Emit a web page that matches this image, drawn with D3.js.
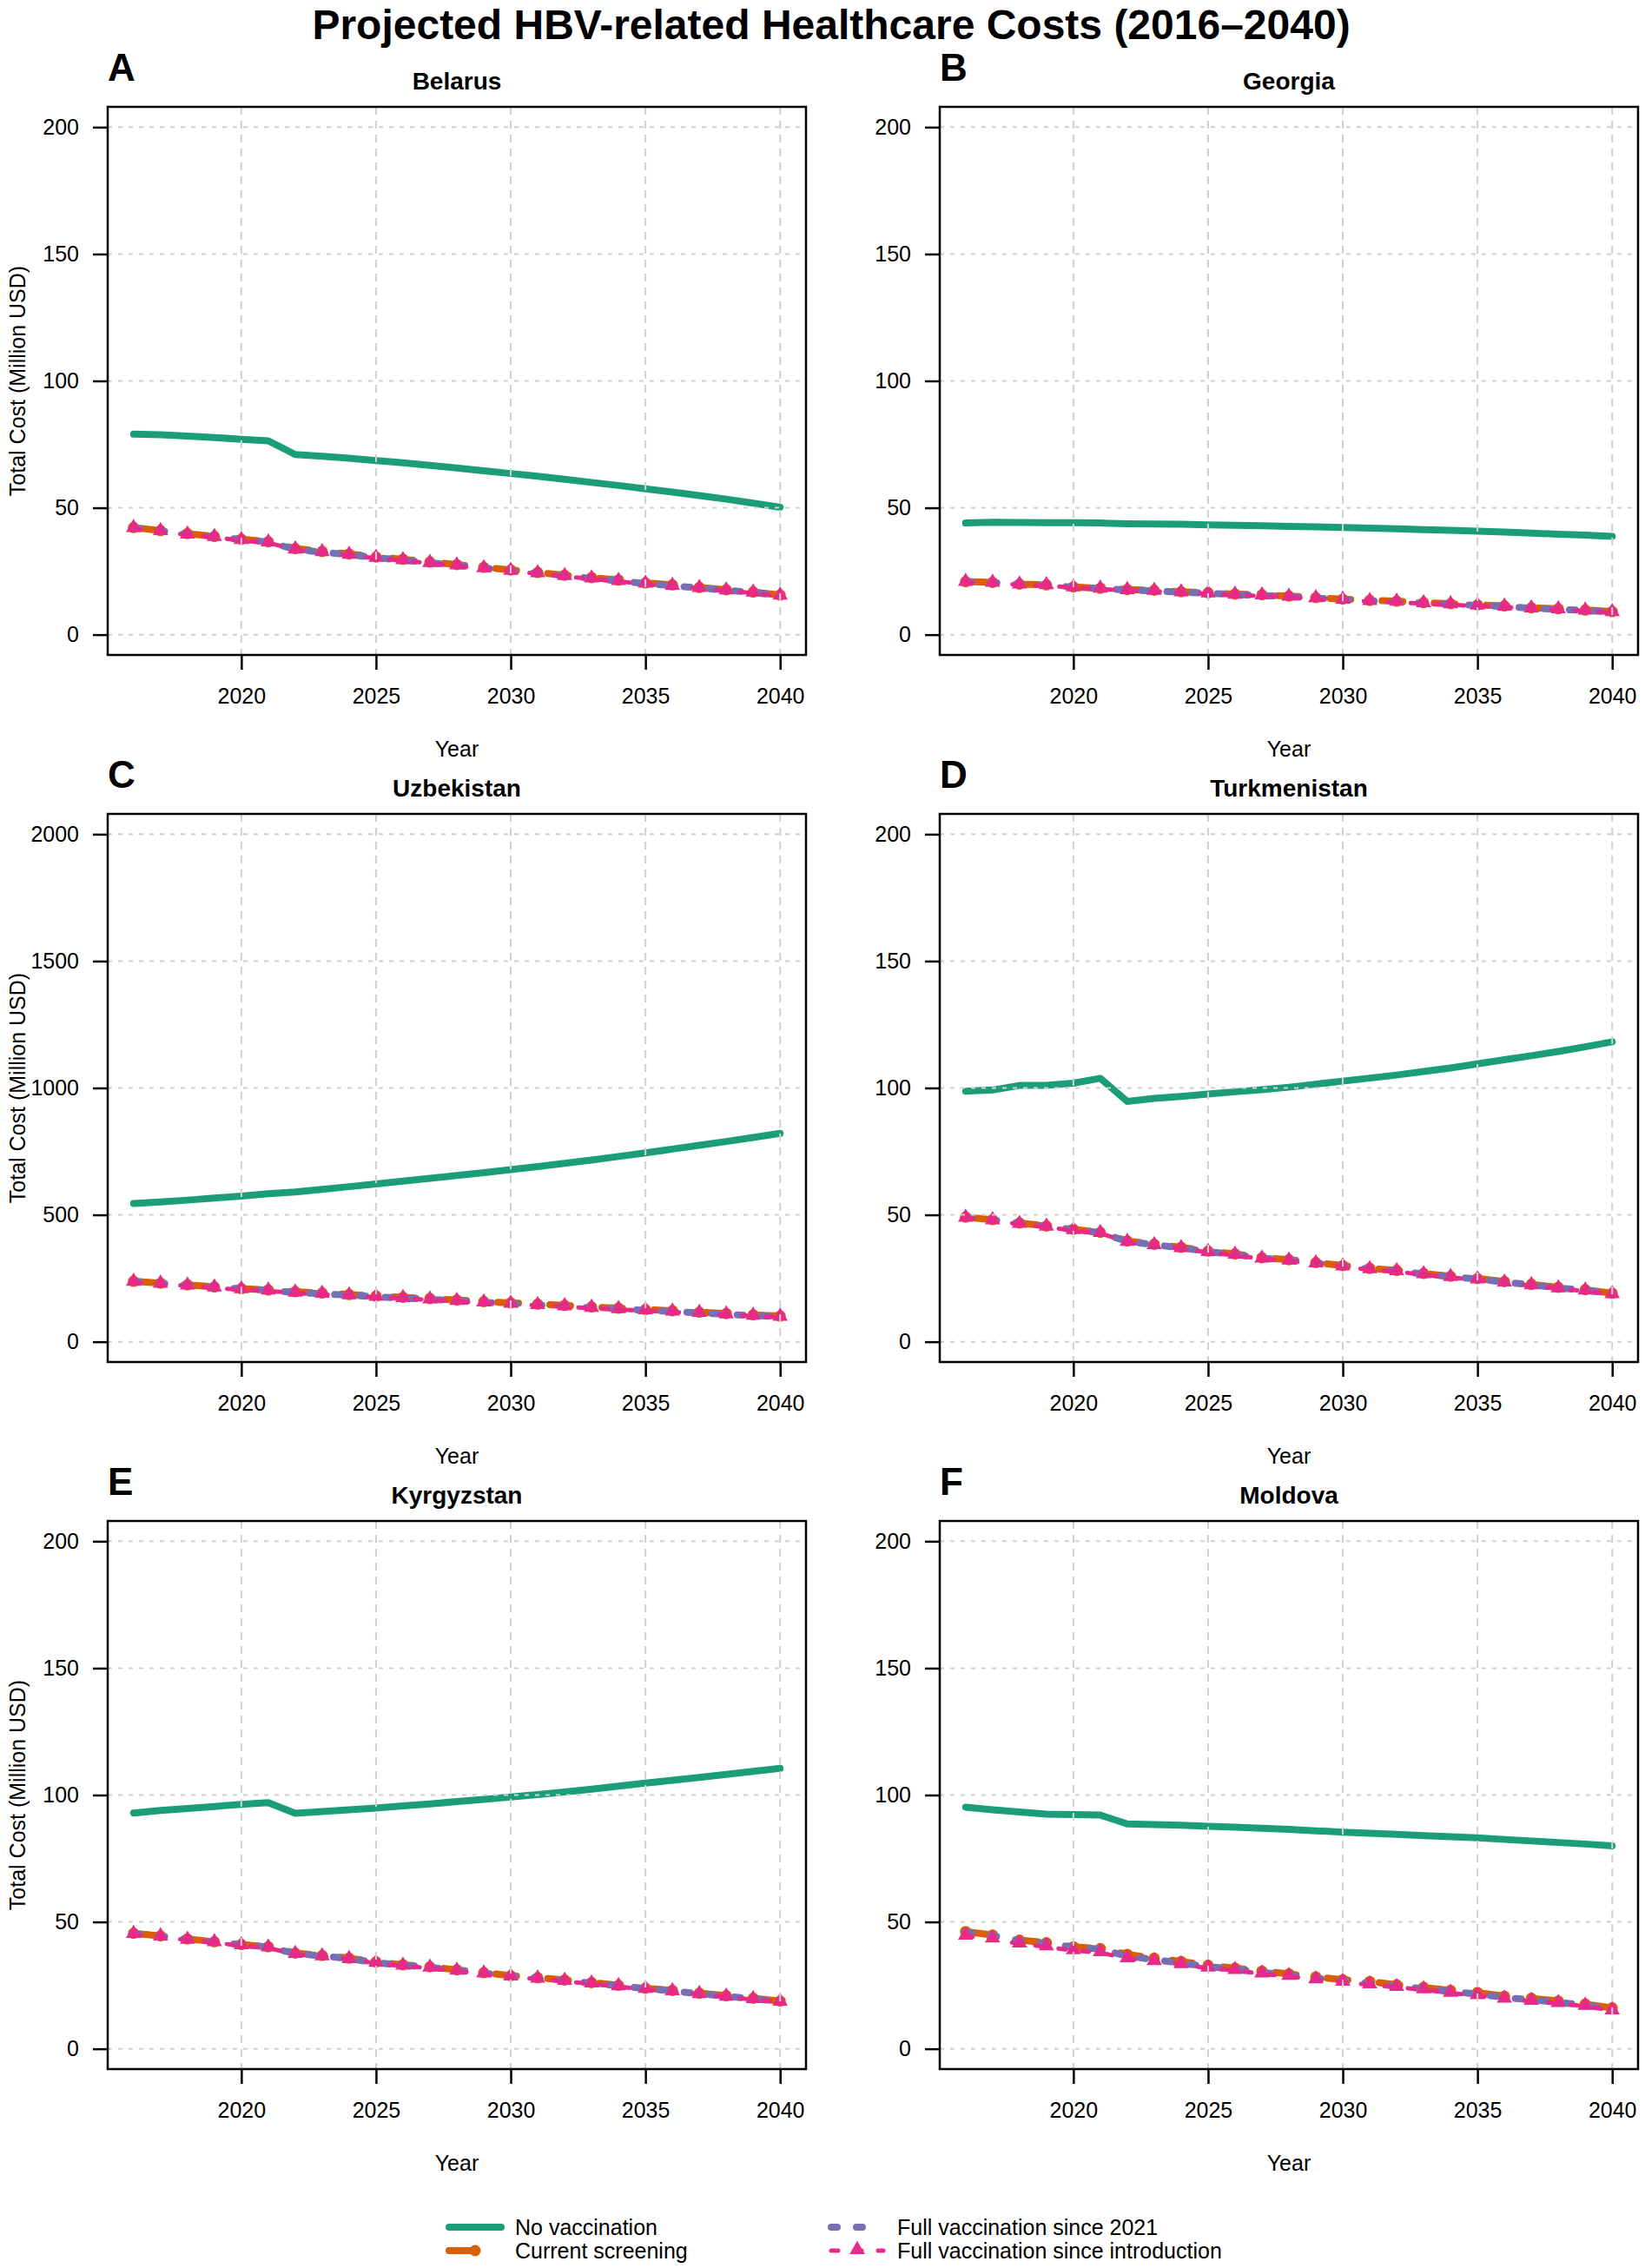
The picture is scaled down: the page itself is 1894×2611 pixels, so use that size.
<!DOCTYPE html>
<html>
<head>
<meta charset="utf-8">
<script src="https://cdn.jsdelivr.net/npm/d3@7"></script>
<style>
  html, body { margin: 0; padding: 0; background: #fff; }
  svg text { font-family: "Liberation Sans", Arial, Helvetica, sans-serif; }
</style>
</head>
<body>
<svg id="chart" width="1894" height="2611"></svg>
<script>
// ---------------- DATA ----------------
const years = [2016,2017,2018,2019,2020,2021,2022,2023,2024,2025,2026,2027,2028,2029,2030,2031,2032,2033,2034,2035,2036,2037,2038,2039,2040];
const countries = ["Belarus","Georgia","Uzbekistan","Turkmenistan","Kyrgyzstan","Moldova"];
const panelLetters = ["A","B","C","D","E","F"];
const seriesNames = ["No vaccination","Current screening","Full vaccination since 2021","Full vaccination since introduction"];
const xTickValues = [2020,2025,2030,2035,2040];
const yTicksSmall = [0,50,100,150,200];
const yTicksLarge = [0,500,1000,1500,2000];

// Belarus
const belarusNoVac   = [79.0,78.8,78.3,77.7,77.0,76.4,71.0,70.3,69.5,68.6,67.7,66.7,65.7,64.6,63.5,62.4,61.2,60.0,58.8,57.5,56.2,54.8,53.4,51.8,50.2];
const belarusCurrent = [42.2,41.0,39.8,38.7,37.6,36.6,33.9,32.8,31.8,30.6,29.7,28.6,27.6,26.5,25.5,24.5,23.4,22.5,21.5,20.4,19.6,18.6,17.7,16.8,15.6];
const belarus2021    = [42.1,40.9,39.7,38.6,37.5,36.5,33.6,32.5,31.5,30.3,29.4,28.3,27.3,26.2,25.2,24.2,23.1,22.2,21.2,20.1,19.3,18.4,17.5,16.6,15.4];
const belarusIntro   = [41.8,40.6,39.3,38.3,37.1,36.2,33.4,32.3,31.3,30.1,29.2,28.1,27.1,26.0,25.0,24.0,22.9,22.0,21.0,19.9,19.1,18.2,17.3,16.4,15.2];
// Georgia
const georgiaNoVac   = [44.0,44.3,44.2,44.1,44.1,44.0,43.7,43.6,43.5,43.3,43.1,42.9,42.7,42.5,42.2,42.0,41.7,41.4,41.1,40.8,40.4,40.0,39.6,39.2,38.7];
const georgiaCurrent = [20.9,20.6,19.9,19.6,18.8,18.3,17.8,17.5,16.9,16.5,16.0,15.7,15.2,14.6,14.0,13.5,13.2,12.6,12.2,11.7,11.3,10.6,10.2,9.7,9.1];
const georgia2021    = [20.8,20.5,19.8,19.5,18.7,18.2,17.6,17.3,16.7,16.3,15.8,15.5,15.0,14.4,13.8,13.3,13.0,12.4,12.0,11.5,11.1,10.4,10.0,9.5,8.9];
const georgiaIntro   = [20.6,20.3,19.6,19.3,18.5,18.0,17.4,17.1,16.5,16.1,15.6,15.3,14.8,14.2,13.6,13.1,12.8,12.2,11.8,11.3,10.9,10.2,9.8,9.3,8.7];
// Uzbekistan
const uzbekNoVac     = [545,551,558,566,574,583,590,600,611,622,633,644,655,666,678,690,703,716,730,744,759,774,789,805,821];
const uzbekCurrent   = [238,231,224,216,209,204,197,192,186,180,175,170,164,158,153,148,143,137,132,127,122,116,111,106,101];
const uzbek2021      = [237,230,223,215,208,203,194,189,183,177,172,167,161,155,150,145,140,134,129,124,119,114,108,103,99];
const uzbekIntro     = [234,227,220,212,205,200,192,187,181,175,170,165,159,153,148,143,138,132,127,122,117,112,106,101,97];
// Turkmenistan
const turkmenNoVac   = [98.7,99.2,101.0,101.0,101.9,103.8,94.7,95.9,96.7,97.6,98.5,99.3,100.3,101.5,102.7,103.9,105.1,106.5,107.9,109.5,111.1,112.7,114.4,116.2,118.2];
const turkmenCurrent = [49.1,48.1,46.8,45.6,44.3,43.1,39.7,38.4,37.2,35.7,34.6,33.1,32.3,31.2,30.0,28.9,28.1,26.9,25.8,24.9,23.7,22.6,21.4,20.5,19.1];
const turkmen2021    = [49.0,48.0,46.7,45.5,44.2,43.0,39.5,38.2,37.0,35.5,34.4,32.9,32.1,31.0,29.8,28.7,27.9,26.7,25.6,24.7,23.5,22.4,21.2,20.3,18.9];
const turkmenIntro   = [48.7,47.7,46.3,45.2,43.8,42.7,39.2,37.9,36.7,35.2,34.1,32.6,31.8,30.7,29.5,28.4,27.6,26.4,25.3,24.4,23.2,22.1,20.9,20.0,18.6];
// Kyrgyzstan
const kyrgyzNoVac    = [92.9,93.9,94.7,95.5,96.3,97.0,92.8,93.5,94.2,94.9,95.7,96.5,97.4,98.3,99.2,100.2,101.2,102.3,103.5,104.7,105.8,106.9,108.1,109.3,110.5];
const kyrgyzCurrent  = [45.5,44.5,43.3,42.2,41.1,40.2,37.7,36.8,35.7,34.2,33.1,32.3,31.1,30.0,28.8,28.0,27.1,26.1,25.0,23.9,23.0,21.9,20.9,19.9,18.8];
const kyrgyz2021     = [45.4,44.4,43.2,42.1,41.0,40.1,37.5,36.6,35.5,34.0,32.9,32.1,30.9,29.8,28.6,27.8,26.9,25.9,24.8,23.7,22.8,21.7,20.7,19.7,18.6];
const kyrgyzIntro    = [45.1,44.1,42.8,41.8,40.6,39.8,37.2,36.3,35.2,33.7,32.6,31.8,30.6,29.5,28.3,27.5,26.6,25.6,24.5,23.4,22.5,21.4,20.4,19.4,18.4];
// Moldova
const moldovaNoVac   = [95.2,94.2,93.3,92.5,92.3,92.1,88.6,88.4,88.1,87.7,87.3,86.9,86.5,85.9,85.4,84.9,84.5,84.0,83.6,83.1,82.5,81.9,81.3,80.7,80.0];
const moldovaCurrent = [46.2,44.8,42.8,41.8,40.2,39.5,37.2,35.7,34.4,32.9,31.8,30.6,29.5,28.3,27.2,26.5,25.2,24.2,23.0,22.2,20.7,19.9,18.8,17.6,16.1];
const moldova2021    = [46.0,44.6,42.6,41.6,40.0,39.3,36.5,35.1,33.8,32.4,31.3,30.1,29.0,27.8,26.7,25.8,24.7,23.7,22.5,21.6,20.2,19.3,18.3,17.2,15.6];
const moldovaIntro   = [44.4,43.3,41.3,40.2,38.7,37.9,35.5,34.4,33.2,31.8,30.9,29.5,28.6,27.2,26.3,25.2,24.2,23.3,21.9,21.0,19.6,18.7,17.9,16.8,15.0];

const panelSeries = [
  [belarusNoVac, belarusCurrent, belarus2021, belarusIntro],
  [georgiaNoVac, georgiaCurrent, georgia2021, georgiaIntro],
  [uzbekNoVac, uzbekCurrent, uzbek2021, uzbekIntro],
  [turkmenNoVac, turkmenCurrent, turkmen2021, turkmenIntro],
  [kyrgyzNoVac, kyrgyzCurrent, kyrgyz2021, kyrgyzIntro],
  [moldovaNoVac, moldovaCurrent, moldova2021, moldovaIntro]
];
const panelYTicks = [yTicksSmall, yTicksSmall, yTicksLarge, yTicksSmall, yTicksSmall, yTicksSmall];

// ---------------- STYLE / LAYOUT ----------------
const colors = ["#1B9E77","#D95F02","#7570B3","#E7298A"];
const lineStyles = [
  {w:8, dash:null},
  {w:8, dash:"24 36"},
  {w:8, dash:"7 22"},
  {w:5, dash:"8 19"}
];
const colLeft = [124, 1082];
const rowTop = [123, 937, 1751];
const boxW = 804, boxH = 631;
const tickLen = 17;
const gridColor = "#d0d0d0";

const svg = d3.select("#chart");
svg.append("rect").attr("width",1894).attr("height",2611).attr("fill","#fff");

svg.append("text")
  .attr("x", 957).attr("y", 45)
  .attr("text-anchor","middle")
  .attr("font-size", 48).attr("font-weight","bold")
  .text("Projected HBV-related Healthcare Costs (2016\u20132040)");

const tri = d3.symbol().type(d3.symbolTriangle).size(135);

countries.forEach((country, i) => {
  const col = i % 2, row = Math.floor(i / 2);
  const left = colLeft[col], top = rowTop[row];
  const ticks = panelYTicks[i];
  const yMax = ticks[ticks.length - 1];
  const x = d3.scaleLinear().domain([2016 - 0.96, 2040 + 0.96]).range([left, left + boxW]);
  const y = d3.scaleLinear().domain([-0.04 * yMax, 1.04 * yMax]).range([top + boxH, top]);
  const g = svg.append("g");

  // data lines
  const series = panelSeries[i];
  series.forEach((vals, s) => {
    const line = d3.line().x((d, k) => x(years[k])).y(d => y(d));
    g.append("path")
      .attr("d", line(vals))
      .attr("fill","none")
      .attr("stroke", colors[s])
      .attr("stroke-width", lineStyles[s].w)
      .attr("stroke-linecap","round")
      .attr("stroke-linejoin","round")
      .attr("stroke-dasharray", lineStyles[s].dash);
    if (s === 1) {
      g.selectAll(null).data(vals).enter().append("circle")
        .attr("cx", (d, k) => x(years[k])).attr("cy", d => y(d))
        .attr("r", 6.5).attr("fill", colors[1]);
    }
    if (s === 3) {
      g.selectAll(null).data(vals).enter().append("path")
        .attr("d", tri)
        .attr("transform", (d, k) => `translate(${x(years[k])},${y(d) - 1})`)
        .attr("fill", colors[3]);
    }
  });

  // grid on top
  g.selectAll(null).data(xTickValues).enter().append("line")
    .attr("x1", d => x(d)).attr("x2", d => x(d))
    .attr("y1", top).attr("y2", top + boxH)
    .attr("stroke", gridColor).attr("stroke-width", 2).attr("stroke-dasharray","9 7");
  g.selectAll(null).data(ticks).enter().append("line")
    .attr("x1", left).attr("x2", left + boxW)
    .attr("y1", d => y(d)).attr("y2", d => y(d))
    .attr("stroke", gridColor).attr("stroke-width", 2).attr("stroke-dasharray","5 7");

  // box
  g.append("rect").attr("x", left).attr("y", top).attr("width", boxW).attr("height", boxH)
    .attr("fill","none").attr("stroke","#000").attr("stroke-width", 2.5);

  // axes
  const ax = g.append("g").attr("transform", `translate(0,${top + boxH})`)
    .call(d3.axisBottom(x).tickValues(xTickValues).tickFormat(d3.format("d")).tickSize(tickLen).tickPadding(21));
  const ay = g.append("g").attr("transform", `translate(${left},0)`)
    .call(d3.axisLeft(y).tickValues(ticks).tickFormat(d3.format("d")).tickSize(tickLen).tickPadding(16));
  [ax, ay].forEach(a => {
    a.select(".domain").remove();
    a.selectAll(".tick line").attr("stroke","#000").attr("stroke-width", 2.5);
    a.selectAll(".tick text").attr("font-size", 25).attr("fill","#000")
      .style("font-family", '"Liberation Sans", Arial, sans-serif');
  });

  // labels
  g.append("text").attr("x", left + boxW / 2).attr("y", top + boxH + 117)
    .attr("text-anchor","middle").attr("font-size", 25).text("Year");
  if (col === 0) {
    g.append("text")
      .attr("transform", `translate(${left - 104},${top + boxH / 2}) rotate(-90)`)
      .attr("text-anchor","middle").attr("dy","0.35em")
      .attr("font-size", 25).text("Total Cost (Million USD)");
  }
  g.append("text").attr("x", left + boxW / 2).attr("y", top - 20)
    .attr("text-anchor","middle").attr("font-size", 28).attr("font-weight","bold").text(country);
  g.append("text").attr("x", left).attr("y", top - 30)
    .attr("font-size", 44).attr("font-weight","bold").text(panelLetters[i]);
});

// ---------------- LEGEND ----------------
const legendItems = [
  {x: 517, y: 2564, s: 0, len: 60},
  {x: 517, y: 2591, s: 1, len: 60},
  {x: 957, y: 2564, s: 2, len: 46},
  {x: 957, y: 2591, s: 3, len: 60}
];
const lg = svg.append("g");
legendItems.forEach(it => {
  const st = lineStyles[it.s];
  lg.append("line").attr("x1", it.x).attr("x2", it.x + it.len).attr("y1", it.y).attr("y2", it.y)
    .attr("stroke", colors[it.s]).attr("stroke-width", st.w).attr("stroke-linecap","round")
    .attr("stroke-dasharray", st.dash);
  if (it.s === 1) lg.append("circle").attr("cx", it.x + 30).attr("cy", it.y).attr("r", 6.5).attr("fill", colors[1]);
  if (it.s === 3) lg.append("path").attr("d", tri).attr("transform", `translate(${it.x + 30},${it.y - 1})`).attr("fill", colors[3]);
  lg.append("text").attr("x", it.x + 76).attr("y", it.y + 9).attr("font-size", 25).text(seriesNames[it.s]);
});
</script>
</body>
</html>
